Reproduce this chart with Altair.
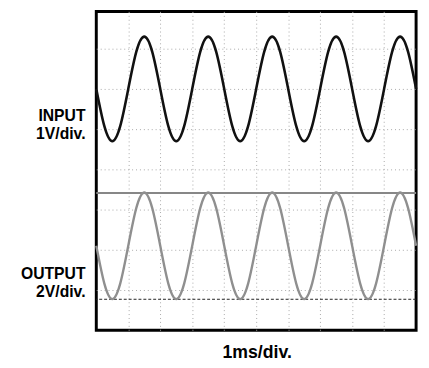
import altair as alt
import pandas as pd

# Time samples (ms)
time_ms = [0, 0.25, 0.5, 0.75, 1, 1.25, 1.5, 1.75, 2, 2.25, 2.5, 2.75, 3, 3.25, 3.5, 3.75,
           4, 4.25, 4.5, 4.75, 5, 5.25, 5.5, 5.75, 6, 6.25, 6.5, 6.75, 7, 7.25, 7.5, 7.75,
           8, 8.25, 8.5, 8.75, 9, 9.25, 9.5, 9.75, 10]

# Input trace (V)
input_v = [0, -0.92, -1.3, -0.92, 0, 0.92, 1.3, 0.92,
           0, -0.92, -1.3, -0.92, 0, 0.92, 1.3, 0.92,
           0, -0.92, -1.3, -0.92, 0, 0.92, 1.3, 0.92,
           0, -0.92, -1.3, -0.92, 0, 0.92, 1.3, 0.92,
           0, -0.92, -1.3, -0.92, 0, 0.92, 1.3, 0.92, 0]

# Output trace (V)
output_v = [0, -1.87, -2.65, -1.87, 0, 1.87, 2.65, 1.87,
            0, -1.87, -2.65, -1.87, 0, 1.87, 2.65, 1.87,
            0, -1.87, -2.65, -1.87, 0, 1.87, 2.65, 1.87,
            0, -1.87, -2.65, -1.87, 0, 1.87, 2.65, 1.87,
            0, -1.87, -2.65, -1.87, 0, 1.87, 2.65, 1.87, 0]

# Channel settings (screen divisions from bottom, volts per division)
input_center_div = 6.0
input_v_per_div = 1.0
output_center_div = 2.1
output_v_per_div = 2.0

# Reference levels (divisions): output peak marker (solid) and trough marker (dashed)
level_solid = [3.41]
level_dashed = [0.77]

x_grid = [1, 2, 3, 4, 5, 6, 7, 8, 9]
y_grid = [1, 2, 3, 4, 5, 6, 7]

labels_input = ["INPUT", "1V/div."]
labels_output = ["OUTPUT", "2V/div."]
x_label = "1ms/div."

df_in = pd.DataFrame({"t": time_ms,
                      "y": [input_center_div + v / input_v_per_div for v in input_v]})
df_out = pd.DataFrame({"t": time_ms,
                       "y": [output_center_div + v / output_v_per_div for v in output_v]})

W, H = 326, 325
x_scale = alt.Scale(domain=[0, 10], nice=False, zero=False)
y_scale = alt.Scale(domain=[0, 325 / 41], nice=False, zero=False)

x_axis = alt.Axis(values=x_grid, grid=True, gridColor="#a8a8a8", gridDash=[1, 3],
                  gridWidth=1, domain=False, ticks=False, labels=False, title=None)
y_axis = alt.Axis(values=y_grid, grid=True, gridColor="#a8a8a8", gridDash=[1, 3],
                  gridWidth=1, domain=False, ticks=False, labels=False, title=None)

wave_in = alt.Chart(df_in).mark_line(color="#111111", strokeWidth=2.6, interpolate="natural").encode(
    x=alt.X("t:Q", scale=x_scale, axis=x_axis),
    y=alt.Y("y:Q", scale=y_scale, axis=y_axis),
)
wave_out = alt.Chart(df_out).mark_line(color="#8f8f8f", strokeWidth=2.4, interpolate="natural").encode(
    x=alt.X("t:Q", scale=x_scale),
    y=alt.Y("y:Q", scale=y_scale),
)

solid_rule = alt.Chart(pd.DataFrame({"y": level_solid})).mark_rule(
    color="#878787", strokeWidth=2).encode(y=alt.Y("y:Q", scale=y_scale))
dashed_rule = alt.Chart(pd.DataFrame({"y": level_dashed})).mark_rule(
    color="#222222", strokeWidth=1, strokeDash=[3, 2]).encode(y=alt.Y("y:Q", scale=y_scale))

def text_layer(txt, px, py, align, size):
    return alt.Chart(pd.DataFrame({"label": [txt]})).mark_text(
        align=align, baseline="alphabetic", font="Liberation Sans", fontWeight="bold",
        fontSize=size, color="#000000").encode(
        text="label:N", x=alt.value(px), y=alt.value(py))

texts = [
    text_layer(labels_input[0], -11, 112, "right", 16),
    text_layer(labels_input[1], -11, 130, "right", 16),
    text_layer(labels_output[0], -11, 273, "right", 16),
    text_layer(labels_output[1], -11, 291, "right", 16),
    text_layer(x_label, 164, 353, "center", 18),
]

chart = alt.layer(wave_in, solid_rule, dashed_rule, wave_out, *texts).properties(
    width=W, height=H,
    autosize=alt.AutoSizeParams(type="none"),
    padding={"left": 90, "top": 0, "right": 5, "bottom": 35},
).configure(
    background="white",
    view=alt.ViewConfig(stroke="#000000", strokeWidth=3),
)

chart.save("out.html", embed_options={"renderer": "svg", "actions": False})
